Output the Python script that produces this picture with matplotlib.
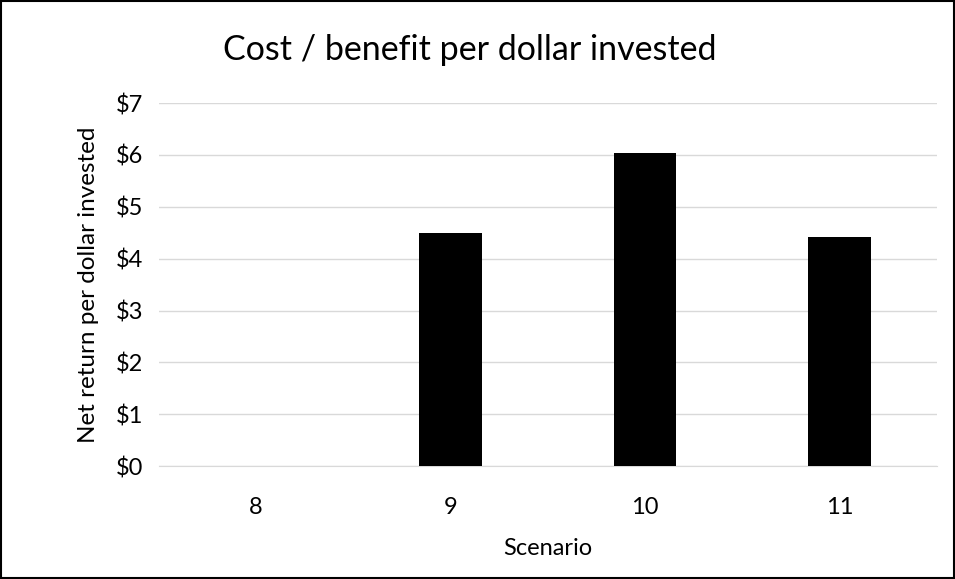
import numpy as np
import matplotlib.pyplot as plt
from matplotlib.patches import Rectangle

plt.rcParams['font.family'] = ['Lato', 'DejaVu Sans']

scenarios = ['8', '9', '10', '11']
returns = [0.0, 4.49, 6.04, 4.42]
y_ticks = [0, 1, 2, 3, 4, 5, 6, 7]


def plot_cost_benefit():
    fig = plt.figure(figsize=(9.55, 5.79), dpi=100)
    ax = fig.add_axes([0.166, 0.195, 0.815, 0.627])

    x = np.arange(len(scenarios))
    ax.bar(x, returns, width=0.32, color='black', zorder=3)

    ax.set_xlim(-0.5, len(scenarios) - 0.5)
    ax.set_ylim(0, 7)
    ax.set_xticks(x)
    ax.set_xticklabels(scenarios)
    ax.set_yticks(y_ticks)
    ax.set_yticklabels([f'${v}' for v in y_ticks])
    ax.tick_params(length=0, labelsize=17, colors='black', pad=11)
    ax.tick_params(axis='x', pad=22)

    ax.grid(axis='y', color='#d9d9d9', linewidth=1, zorder=0)
    for s in ['top', 'right', 'left']:
        ax.spines[s].set_visible(False)
    ax.spines['bottom'].set_color('#d9d9d9')

    ax.set_xlabel('Scenario', fontsize=17, labelpad=15)
    ax.set_ylabel('Net return per dollar invested', fontsize=17.5, labelpad=12)
    fig.text(0.492, 0.914, 'Cost / benefit per dollar invested', fontsize=24.5,
             ha='center', va='center')

    fig.patches.append(Rectangle((0.001, 0.001), 0.998, 0.998, transform=fig.transFigure,
                                 fill=False, edgecolor='black', linewidth=1.5))

    fig.savefig('out.png', dpi=100)


plot_cost_benefit()
